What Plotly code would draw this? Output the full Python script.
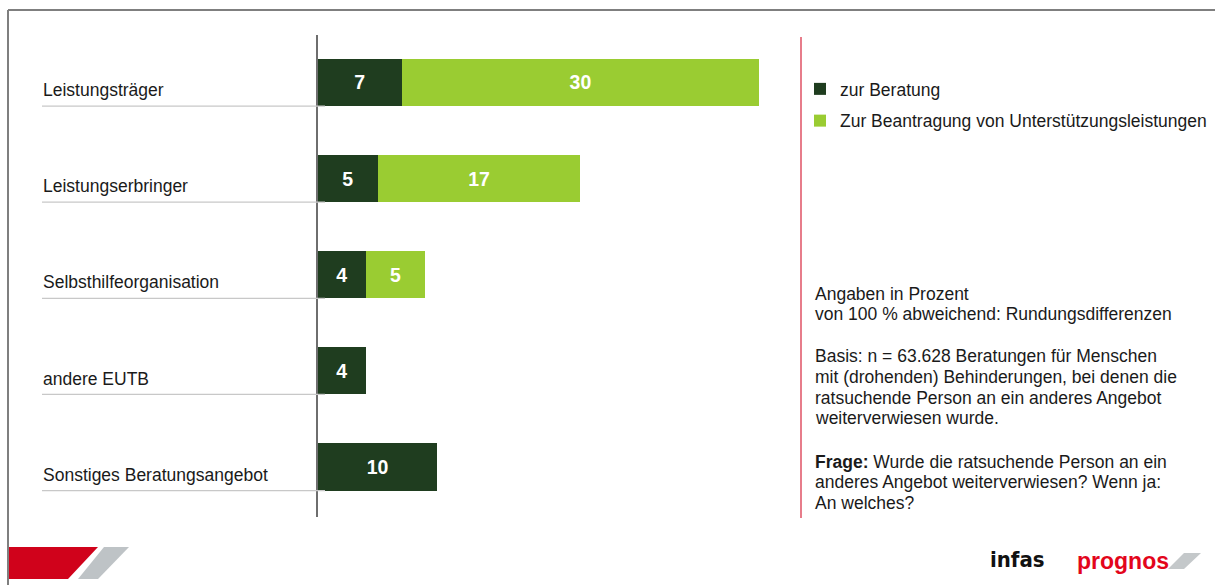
import plotly.graph_objects as go

# Referral targets and shares (percent)
categories = [
    "Leistungsträger",
    "Leistungserbringer",
    "Selbsthilfeorganisation",
    "andere EUTB",
    "Sonstiges Beratungsangebot",
]
beratung = [7, 5, 4, 4, 10]
beantragung = [30, 17, 5, None, None]
series_names = ["zur Beratung", "Zur Beantragung von Unterstützungsleistungen"]

DARK = "#1F3D1F"
LIGHT = "#9ACC32"
FONT = "Liberation Sans, Arial, sans-serif"
TXT = 17.5

W, H = 1215, 585
L, R, T, B = 318, 801, 35, 517  # plot area in pixels


def px(x):
    return (x - L) / (R - L)


def py(y):
    return (B - y) / (B - T)


fig = go.Figure()
for name, vals, col in [(series_names[0], beratung, DARK), (series_names[1], beantragung, LIGHT)]:
    fig.add_trace(go.Bar(
        y=categories, x=vals, name=name, orientation="h",
        marker=dict(color=col, line=dict(width=0)),
        width=0.49,
        text=[("" if v is None else str(v)) for v in vals],
        textposition="inside", insidetextanchor="middle",
        textangle=0, constraintext="none",
        textfont=dict(family=FONT, size=19.5, color="white", weight="bold"),
        legendgroup=name,
        hoverinfo="x+y",
    ))

shapes = []
annotations = []

# category labels with a thin rule under each
for i, c in enumerate(categories):
    annotations.append(dict(
        x=px(41), xref="paper", xanchor="left",
        y=i + 0.08, yref="y", yanchor="middle",
        text=c, showarrow=False,
        font=dict(family=FONT, size=TXT, color="#1a1a1a"),
    ))
    shapes.append(dict(
        type="line", xref="paper", yref="y",
        x0=px(42), x1=px(325), y0=i + 0.245, y1=i + 0.245,
        line=dict(color="#C8C8C8", width=1.2),
    ))

# red divider on the right of the plot area
shapes.append(dict(type="line", xref="paper", yref="paper",
                   x0=1, x1=1, y0=py(518), y1=py(37),
                   line=dict(color="#D7263D", width=1.2)))

# outer frame (top and left edges)
shapes.append(dict(type="line", xref="paper", yref="paper",
                   x0=px(8), x1=px(1216), y0=py(10), y1=py(10),
                   line=dict(color="#7F7F7F", width=2)))
shapes.append(dict(type="line", xref="paper", yref="paper",
                   x0=px(8), x1=px(8), y0=py(10), y1=py(586),
                   line=dict(color="#7F7F7F", width=2)))


def poly(points, color):
    d = "M " + " L ".join(f"{px(x)},{py(y)}" for x, y in points) + " Z"
    return dict(type="path", xref="paper", yref="paper", path=d,
                fillcolor=color, line=dict(width=0))


# footer bars bottom-left
shapes.append(poly([(9, 547), (98, 547), (68, 579), (9, 579)], "#D0021B"))
shapes.append(poly([(104, 547), (129, 547), (98, 579), (78, 579)], "#BEC3C6"))
# slash after the prognos wordmark
shapes.append(poly([(1184, 553), (1201, 553), (1184, 569), (1168, 569)], "#C4C8CA"))

# notes block, one line per annotation for tight leading
note_lines = [
    ("Angaben in Prozent", 294),
    ("von 100 % abweichend: Rundungsdifferenzen", 314.5),
    ("Basis: n = 63.628 Beratungen für Menschen", 356),
    ("mit (drohenden) Behinderungen, bei denen die", 377),
    ("ratsuchende Person an ein anderes Angebot", 397.5),
    ("weiterverwiesen wurde.", 418),
    ("<b>Frage:</b> Wurde die ratsuchende Person an ein", 461.5),
    ("anderes Angebot weiterverwiesen? Wenn ja:", 482),
    ("An welches?", 502.5),
]
for line, yc in note_lines:
    annotations.append(dict(
        x=px(813), xref="paper", xanchor="left",
        y=py(yc), yref="paper", yanchor="middle",
        text=line, align="left", showarrow=False,
        font=dict(family=FONT, size=TXT, color="#1a1a1a"),
    ))

# footer wordmarks
annotations.append(dict(
    x=px(1017), xref="paper", xanchor="center",
    y=py(559), yref="paper", yanchor="middle",
    text="<b>infas</b>", showarrow=False,
    font=dict(family="DejaVu Sans Condensed, Liberation Sans Narrow, Arial Narrow, sans-serif",
              size=22, color="#111111"),
))
annotations.append(dict(
    x=px(1075), xref="paper", xanchor="left",
    y=py(561), yref="paper", yanchor="middle",
    text="<b>prognos</b>", showarrow=False,
    font=dict(family=FONT, size=23, color="#E3051B"),
))

fig.update_layout(
    width=W, height=H,
    margin=dict(l=L, r=W - R, t=T, b=H - B, pad=0, autoexpand=False),
    paper_bgcolor="white", plot_bgcolor="white",
    barmode="stack",
    bargap=0.51,
    showlegend=True,
    legend=dict(
        xref="container", yref="container",
        x=800 / W, y=1 - 71 / H, xanchor="left", yanchor="top",
        font=dict(family=FONT, size=TXT, color="#1a1a1a"),
        tracegroupgap=6, itemclick=False, itemdoubleclick=False,
        bgcolor="rgba(0,0,0,0)", traceorder="grouped",
    ),
    xaxis=dict(range=[0, (R - L) / 11.93], visible=False, fixedrange=True),
    yaxis=dict(
        categoryorder="array", categoryarray=categories,
        range=[4.52, -0.494], showticklabels=False, ticks="",
        showgrid=False, zeroline=False,
        showline=True, linecolor="#6E6E6E", linewidth=1.6,
        fixedrange=True,
    ),
    shapes=shapes, annotations=annotations,
)

fig.write_html("out.html")
